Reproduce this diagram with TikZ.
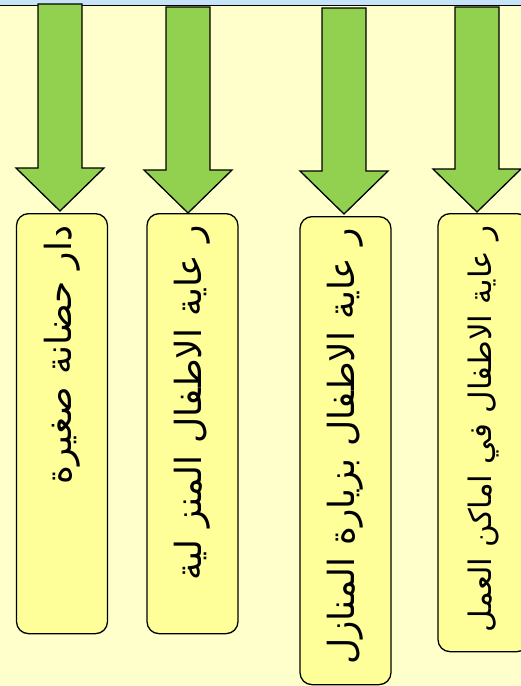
\documentclass[tikz,border=0pt]{standalone}
\usepackage{fontspec}
\newfontfamily\arabicfont[Script=Arabic]{DejaVu Sans}
\TeXXeTstate=1
\definecolor{paper}{HTML}{FFFFCC}
\definecolor{topblue}{HTML}{C6E3F7}
\definecolor{arrowgreen}{HTML}{92D050}
\definecolor{boxyellow}{HTML}{FFFF99}
\tikzset{
  downarrow/.style={draw=black, fill=arrowgreen, line width=1.3pt, line join=miter},
  textbox/.style={draw=black, fill=boxyellow, line width=1.3pt, rounded corners=12pt,
    rotate=90, anchor=east, minimum height=91pt, inner xsep=12pt, align=right,
    font=\arabicfont\fontsize{36}{40}\selectfont}
}
\begin{document}
\begin{tikzpicture}[x=1pt,y=-1pt]
\useasboundingbox (0,0) rectangle (521,686);
\fill [paper] (0,0) rectangle (521,686);
\fill [topblue] (0,0) rectangle (521,5);
\draw [line width=1.3pt] (0,5.5) -- (521,5.5);
% arrows
\foreach \x/\t/\h in {60/4/211, 188/7/213, 344/8/214, 477/7/212}
  \draw [downarrow] (\x-22,\t) -- (\x+22,\t) -- (\x+22,\h-43) -- (\x+44,\h-43)
    -- (\x,\h) -- (\x-44,\h-43) -- (\x-22,\h-43) -- cycle;
% boxes
\node [textbox, text width=396pt] (care1) at (62,213) {\beginR دار حضانة صغيرة\endR};
\node [textbox, text width=396pt] (care2) at (192.5,213) {\beginR ر عاية الاطفال المنز لية\endR};
\node [textbox, text width=444pt] (care3) at (345.5,216) {\beginR ر عاية الاطفال بزيارة المنازل\endR};
\node [textbox, text width=414pt, font=\arabicfont\fontsize{31}{35}\selectfont] (care4) at (483.5,213) {\beginR ر عاية الاطفال في اماكن العمل\endR};
\end{tikzpicture}
\end{document}
